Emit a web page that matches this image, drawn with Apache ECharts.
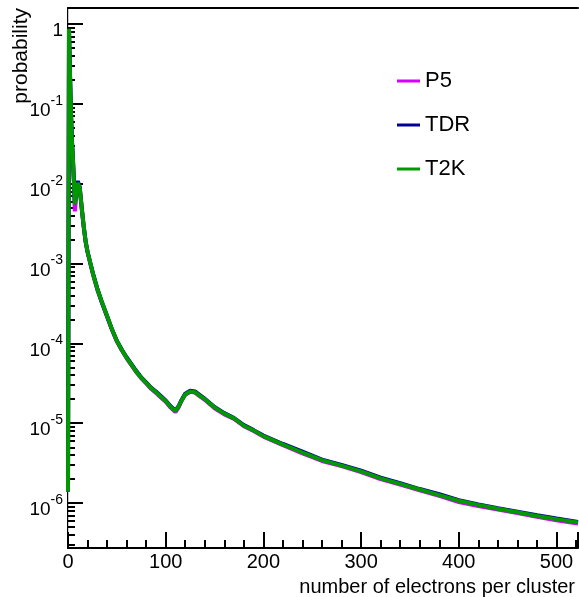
<!DOCTYPE html>
<html>
<head>
<meta charset="utf-8">
<script src="https://cdn.jsdelivr.net/npm/echarts@6/dist/echarts.min.js"></script>
<style>
html, body { margin: 0; padding: 0; background: #fff; }
#chart { width: 579px; height: 597px; }
</style>
</head>
<body>
<div id="chart"></div>
<script>
// number of electrons per cluster (bin positions)
var electrons = [0, 1, 2, 3, 4, 5, 6, 7, 8, 9, 10, 11, 12, 14, 16, 18, 20, 23, 26, 30,
    35, 40, 45, 50, 55, 60, 65, 70, 75, 80, 85, 90, 95, 100, 105, 110, 113, 116, 120, 125,
    130, 135, 140, 150, 160, 170, 180, 190, 200, 220, 240, 260, 280, 300, 320, 340, 360, 380, 400, 420,
    440, 460, 480, 500, 522];

var p5 = [1.4e-6, 0.86, 0.24, 0.078, 0.034, 0.02, 0.0105, 0.0045, 0.006, 0.0088, 0.0099, 0.01, 0.0087, 0.0049, 0.0029, 0.0019, 0.0014, 0.00098, 7.0e-4, 4.7e-4,
    3.15e-4, 2.15e-4, 1.48e-4, 1.06e-4, 8.2e-5, 6.5e-5, 5.3e-5, 4.35e-5, 3.65e-5, 3.15e-5, 2.7e-5, 2.4e-5, 2.1e-5, 1.86e-5, 1.57e-5, 1.38e-5, 1.57e-5, 1.88e-5, 2.28e-5, 2.47e-5,
    2.42e-5, 2.17e-5, 1.97e-5, 1.54e-5, 1.29e-5, 1.13e-5, 9.2e-6, 8.0e-6, 6.8e-6, 5.3e-6, 4.2e-6, 3.37e-6, 2.9e-6, 2.45e-6, 2.0e-6, 1.71e-6, 1.45e-6, 1.23e-6, 1.03e-6, 9.2e-7,
    8.3e-7, 7.5e-7, 6.75e-7, 6.1e-7, 5.55e-7];

var tdr = [1.4e-6, 0.87, 0.25, 0.08, 0.036, 0.021, 0.0115, 0.0058, 0.0072, 0.0098, 0.0108, 0.0106, 0.0091, 0.0051, 0.003, 0.0019, 0.0014, 0.001, 7.2e-4, 4.9e-4,
    3.2e-4, 2.2e-4, 1.5e-4, 1.08e-4, 8.4e-5, 6.7e-5, 5.5e-5, 4.5e-5, 3.75e-5, 3.25e-5, 2.8e-5, 2.5e-5, 2.2e-5, 1.93e-5, 1.63e-5, 1.44e-5, 1.62e-5, 1.93e-5, 2.35e-5, 2.55e-5,
    2.5e-5, 2.25e-5, 2.03e-5, 1.6e-5, 1.34e-5, 1.16e-5, 9.5e-6, 8.2e-6, 7.0e-6, 5.5e-6, 4.4e-6, 3.5e-6, 3.0e-6, 2.55e-6, 2.08e-6, 1.78e-6, 1.5e-6, 1.29e-6, 1.09e-6, 9.6e-7,
    8.6e-7, 7.8e-7, 7.05e-7, 6.4e-7, 5.8e-7];

var t2k = [1.4e-6, 0.87, 0.25, 0.079, 0.035, 0.021, 0.011, 0.0055, 0.0066, 0.0091, 0.0102, 0.0102, 0.0089, 0.005, 0.003, 0.0019, 0.0014, 0.001, 7.1e-4, 4.8e-4,
    3.2e-4, 2.2e-4, 1.5e-4, 1.07e-4, 8.3e-5, 6.6e-5, 5.4e-5, 4.4e-5, 3.7e-5, 3.2e-5, 2.75e-5, 2.45e-5, 2.15e-5, 1.9e-5, 1.6e-5, 1.42e-5, 1.6e-5, 1.9e-5, 2.3e-5, 2.5e-5,
    2.45e-5, 2.2e-5, 2.0e-5, 1.58e-5, 1.32e-5, 1.15e-5, 9.3e-6, 8.1e-6, 6.9e-6, 5.4e-6, 4.3e-6, 3.45e-6, 2.95e-6, 2.5e-6, 2.04e-6, 1.74e-6, 1.48e-6, 1.26e-6, 1.07e-6, 9.5e-7,
    8.5e-7, 7.7e-7, 6.9e-7, 6.3e-7, 5.7e-7];

var seriesNames = ['P5', 'TDR', 'T2K'];
var seriesColors = ['#d400ff', '#000099', '#009900'];

var xMin = 0, xMax = 522;
var yMin = 2.74e-7, yMax = 1.585;
var font = '"Liberation Sans", Arial, sans-serif';

function pairs(ys) {
    return electrons.map(function(x, i) { return [x, ys[i]]; });
}

var chart = echarts.init(document.getElementById('chart'));

var lines = [p5, tdr, t2k].map(function(ys, i) {
    return {
        name: seriesNames[i],
        type: 'line',
        data: pairs(ys),
        showSymbol: false,
        symbol: 'none',
        clip: false,
        z: 3 + i,
        lineStyle: { color: seriesColors[i], width: 4 },
        itemStyle: { color: seriesColors[i] }
    };
});

var option = {
    animation: false,
    backgroundColor: '#fff',
    textStyle: { fontFamily: font },
    grid: { left: 68, top: 8, right: 1, bottom: 49 },
    title: {
        text: 'number of electrons per cluster',
        right: 4,
        top: 577,
        padding: 0,
        textStyle: { fontSize: 20, fontWeight: 'normal', color: '#000', fontFamily: font }
    },
    legend: {
        data: seriesNames,
        orient: 'vertical',
        left: 397,
        top: 70,
        padding: 0,
        icon: 'rect',
        itemWidth: 23,
        itemHeight: 3,
        itemGap: 22,
        textStyle: { fontSize: 22, color: '#000', fontFamily: font }
    },
    graphic: [{
        type: 'text',
        x: 21,
        y: 8,
        rotation: Math.PI / 2,
        style: {
            text: 'probability',
            font: '21px ' + font,
            fill: '#000',
            align: 'right',
            verticalAlign: 'middle'
        }
    }],
    xAxis: [{
        type: 'value',
        min: xMin,
        max: xMax,
        interval: 100,
        axisLine: { show: true, lineStyle: { color: '#000', width: 2 } },
        axisTick: { show: true, inside: true, length: 16, lineStyle: { color: '#000', width: 2 } },
        minorTick: { show: true, splitNumber: 5, length: 8, lineStyle: { color: '#000', width: 2 } },
        axisLabel: { showMaxLabel: false, fontSize: 20, color: '#000', margin: 4, fontFamily: font },
        splitLine: { show: false }
    }, {
        type: 'value',
        position: 'top',
        min: xMin,
        max: xMax,
        axisLine: { show: true, lineStyle: { color: '#000', width: 2 } },
        axisTick: { show: false },
        axisLabel: { show: false },
        splitLine: { show: false }
    }],
    yAxis: [{
        type: 'log',
        logBase: 10,
        min: yMin,
        max: yMax,
        splitNumber: 7,
        axisLine: { show: true, lineStyle: { color: '#000', width: 2 } },
        axisTick: { show: true, inside: true, length: 15, lineStyle: { color: '#000', width: 2 } },
        minorTick: { show: true, splitNumber: 9, length: 7, lineStyle: { color: '#000', width: 2 } },
        axisLabel: {
            showMinLabel: false,
            showMaxLabel: false,
            margin: 5,
            color: '#000',
            padding: [14, 0, 0, 0],
            formatter: function(v) {
                var lg = Math.log10(v);
                var e = Math.round(lg);
                if (Math.abs(lg - e) > 0.01) return '';
                if (e === 0) return '{o|1}';
                return '{b|10}{s|' + e + '}';
            },
            rich: {
                o: { fontSize: 19, lineHeight: 28, fontFamily: font, color: '#000', verticalAlign: 'middle' },
                b: { fontSize: 19, lineHeight: 34, fontFamily: font, color: '#000', verticalAlign: 'middle' },
                s: { fontSize: 14, lineHeight: 14, fontFamily: font, color: '#000', verticalAlign: 'top' }
            }
        },
        splitLine: { show: false }
    }, {
        type: 'log',
        logBase: 10,
        position: 'right',
        min: yMin,
        max: yMax,
        axisLine: { show: true, lineStyle: { color: '#c8c8c8', width: 1 } },
        axisTick: { show: false },
        axisLabel: { show: false },
        splitLine: { show: false }
    }],
    series: lines
};

chart.setOption(option);
</script>
</body>
</html>
